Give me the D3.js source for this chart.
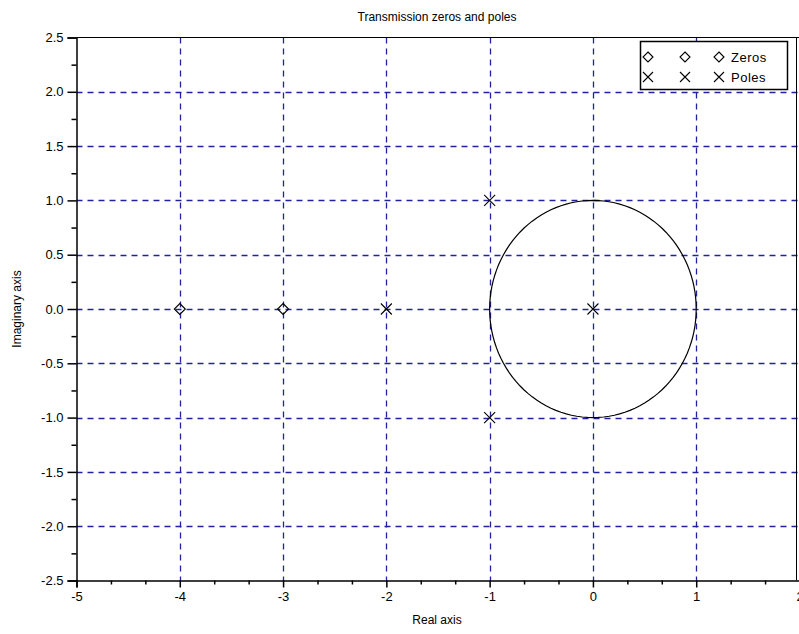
<!DOCTYPE html>
<html><head><meta charset="utf-8">
<script src="https://cdn.jsdelivr.net/npm/d3@7"></script>
<style>body{margin:0;background:#fff}svg{display:block}</style>
</head><body>
<svg id="c" width="799" height="634"></svg>
<script>
const zerosRe = [-4, -3];
const zerosIm = [0, 0];
const polesRe = [-2, -1, -1, 0];
const polesIm = [0, 1, -1, 0];
const xTicks = [-5, -4, -3, -2, -1, 0, 1, 2];
const yTicks = [-2.5, -2.0, -1.5, -1.0, -0.5, 0.0, 0.5, 1.0, 1.5, 2.0, 2.5];
const legendLabels = ["Zeros", "Poles"];

const svg = d3.select("#c");
const font = "Liberation Sans, Arial, sans-serif";
const x = d3.scaleLinear().domain([-5, 2]).range([76.5, 799.5]);
const y = d3.scaleLinear().domain([-2.5, 2.5]).range([580.5, 37.5]);
const gridColor = "#2222a0";
const hy = s => s.replace("\u2212", "-");

// grid
const g = svg.append("g");
xTicks.slice(1, -1).forEach(v => {
  g.append("line").attr("x1", Math.round(x(v)) + 0.5).attr("x2", Math.round(x(v)) + 0.5)
    .attr("y1", y(2.5)).attr("y2", y(-2.5))
    .attr("stroke", gridColor).attr("stroke-width", 1.3).attr("stroke-dasharray", "6,5");
});
yTicks.slice(1, -1).forEach(v => {
  g.append("line").attr("y1", Math.round(y(v)) + 0.5).attr("y2", Math.round(y(v)) + 0.5)
    .attr("x1", x(-5)).attr("x2", x(2))
    .attr("stroke", gridColor).attr("stroke-width", 1.3).attr("stroke-dasharray", "6,5");
});

// frame
svg.append("line").attr("x1", x(-5)).attr("x2", 799).attr("y1", y(2.5)).attr("y2", y(2.5)).attr("stroke", "#000");
svg.append("line").attr("x1", 796.5).attr("x2", 796.5).attr("y1", y(2.5)).attr("y2", y(-2.5)).attr("stroke", "#000");

// axes
const xMinor = [];
for (let i = -5; i < 2; i++) { xMinor.push(i + 1/3, i + 2/3); }
const yMinor = [];
for (let i = 0; i < 10; i++) yMinor.push(-2.25 + i * 0.5);

const xAxis = d3.axisBottom(x).tickValues(xTicks).tickFormat(d => hy(d3.format("d")(d))).tickSize(7).tickPadding(4);
const xa = svg.append("g").attr("transform", `translate(0,${y(-2.5)})`).call(xAxis);
xa.selectAll("text").attr("font-family", font).attr("font-size", 13).attr("fill", "#000");
xa.selectAll(".domain").attr("stroke", "#000").attr("stroke-width", 1.5);
xa.selectAll(".tick line").attr("stroke-width", 1.5);
xa.selectAll(".tick").filter(d => d === 2).select("line").remove();
svg.append("g").attr("transform", `translate(0,${y(-2.5)})`)
  .call(d3.axisBottom(x).tickValues(xMinor).tickSize(4).tickFormat(""))
  .call(s => s.select(".domain").remove())
  .selectAll("line").attr("stroke-width", 1.5);

const yAxis = d3.axisLeft(y).tickValues(yTicks).tickFormat(d => hy(d3.format(".1f")(d))).tickSize(9).tickPadding(4);
const ya = svg.append("g").attr("transform", `translate(${x(-5)},0)`).call(yAxis);
ya.selectAll("text").attr("font-family", font).attr("font-size", 13).attr("fill", "#000");
ya.selectAll(".domain").attr("stroke", "#000").attr("stroke-width", 1.5);
ya.selectAll(".tick line").attr("stroke-width", 1.5);
svg.append("g").attr("transform", `translate(${x(-5)},0)`)
  .call(d3.axisLeft(y).tickValues(yMinor).tickSize(5).tickFormat(""))
  .call(s => s.select(".domain").remove())
  .selectAll("line").attr("stroke-width", 1.5);

// unit circle
const angles = d3.range(0, 361, 3);
const line = d3.line().x(a => x(Math.cos(a * Math.PI / 180))).y(a => y(Math.sin(a * Math.PI / 180)));
svg.append("path").datum(angles).attr("d", line).attr("fill", "none").attr("stroke", "#000").attr("stroke-width", 1.2);

// markers
function diamond(sel, cx, cy, r) {
  sel.append("path").attr("d", `M${cx},${cy - r}L${cx + r},${cy}L${cx},${cy + r}L${cx - r},${cy}Z`)
    .attr("fill", "none").attr("stroke", "#000").attr("stroke-width", 1.1);
}
function cross(sel, cx, cy, r) {
  sel.append("path").attr("d", `M${cx - r},${cy - r}L${cx + r},${cy + r}M${cx - r},${cy + r}L${cx + r},${cy - r}`)
    .attr("fill", "none").attr("stroke", "#000").attr("stroke-width", 1.1);
}
zerosRe.forEach((re, i) => diamond(svg, x(re), y(zerosIm[i]), 5.5));
polesRe.forEach((re, i) => cross(svg, x(re), y(polesIm[i]), 5.5));

// legend
const lg = svg.append("g");
lg.append("rect").attr("x", 640.5).attr("y", 41.5).attr("width", 147).attr("height", 48)
  .attr("fill", "#fff").attr("stroke", "#000").attr("stroke-width", 1.5);
[648, 685, 719].forEach(px => { diamond(lg, px, 57, 5); cross(lg, px, 77, 5); });
legendLabels.forEach((t, i) => {
  lg.append("text").attr("x", 731).attr("y", 62 + i * 20).attr("font-family", font).attr("font-size", 13)
    .attr("letter-spacing", 0.5).text(t);
});

// titles
svg.append("text").attr("x", 437).attr("y", 21).attr("text-anchor", "middle")
  .attr("font-family", font).attr("font-size", 12).text("Transmission zeros and poles");
svg.append("text").attr("x", 437).attr("y", 624).attr("text-anchor", "middle")
  .attr("font-family", font).attr("font-size", 12).text("Real axis");
svg.append("text").attr("transform", `translate(21,${y(0)}) rotate(-90)`).attr("text-anchor", "middle")
  .attr("font-family", font).attr("font-size", 12).text("Imaginary axis");
</script>
</body></html>
